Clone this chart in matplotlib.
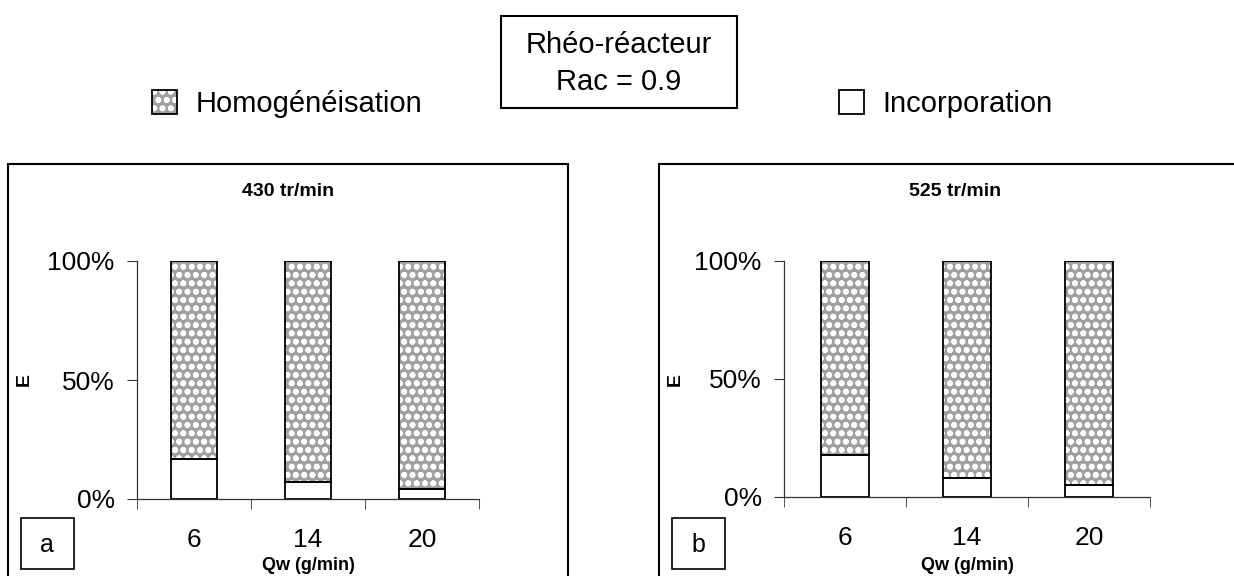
import numpy as np
import matplotlib
matplotlib.use("Agg")
import matplotlib.pyplot as plt
from matplotlib.patches import Rectangle, Patch

plt.rcParams['font.family'] = ['Liberation Sans', 'DejaVu Sans']
plt.rcParams['hatch.linewidth'] = 1.8

# donnees
debits = ['6', '14', '20']
incorp_430 = [17, 7, 4]
incorp_525 = [18, 8, 5]
titres = ['430 tr/min', '525 tr/min']
lettres = ['a', 'b']

W, H = 1234, 576
GRIS = '#a0a0a0'

fig = plt.figure(figsize=(W / 100, H / 100), dpi=100)


def px(x, y):
    # pixels (origine en haut a gauche) -> coordonnees figure
    return x / W, 1 - y / H


def panneau(x0, y0, w, h, incorp, e_x):
    ax = fig.add_axes([x0 / W, 1 - y0 / H, w / W, h / H])
    x = np.arange(len(debits))
    inc = np.array(incorp)
    hom = 100 - inc
    ax.bar(x, inc, 0.4, color='white', edgecolor='black', linewidth=1.3, zorder=3)
    ax.bar(x, hom, 0.4, bottom=inc, color=GRIS, hatch='oo', edgecolor='white',
           linewidth=0, zorder=2)
    ax.bar(x, hom, 0.4, bottom=inc, fill=False, edgecolor='black', linewidth=1.3, zorder=3)
    ax.set_xlim(-0.5, 2.5)
    ax.set_ylim(0, 100)
    ax.set_yticks([0, 50, 100])
    ax.set_yticklabels(['0%', '50%', '100%'])
    ax.set_xticks(x)
    ax.set_xticklabels(debits)
    ax.set_xticks([-0.5, 0.5, 1.5, 2.5], minor=True)
    ax.tick_params(axis='x', which='major', length=0, pad=21, labelsize=19)
    ax.tick_params(axis='x', which='minor', length=7, direction='out', color='#333333')
    ax.tick_params(axis='y', length=7, direction='out', pad=9, labelsize=19, color='#333333')
    for s in ['top', 'right']:
        ax.spines[s].set_visible(False)
    for s in ['left', 'bottom']:
        ax.spines[s].set_color('#333333')
        ax.spines[s].set_linewidth(0.9)
    ax.set_xlabel('Qw (g/min)', fontsize=13, fontweight='bold')
    ax.xaxis.set_label_coords(0.5, (y0 - 557) / h)
    ax.set_ylabel('E', fontsize=14, fontweight='bold')
    ax.yaxis.set_label_coords((e_x - x0) / w, 0.5)
    return ax


ax_a = panneau(137, 499, 342, 238, incorp_430, 33)
ax_b = panneau(784, 497, 366, 236, incorp_525, 684)

# cadres des deux graphiques
for (x0, x1), xt, titre, lettre in zip([(8, 568), (659, 1250)], [288, 955], titres, lettres):
    fig.patches.append(Rectangle(px(x0, 590), (x1 - x0) / W, (590 - 164) / H,
                                 transform=fig.transFigure, fill=False,
                                 edgecolor='black', linewidth=1.5))
    fig.text(*px(xt, 192), titre, fontsize=14, fontweight='bold',
             ha='center', va='center')
    fig.patches.append(Rectangle(px(x0 + 13, 569), 53 / W, 51 / H,
                                 transform=fig.transFigure, fill=False,
                                 edgecolor='black', linewidth=1.2))
    fig.text(*px(x0 + 39, 545), lettre, fontsize=18, ha='center', va='center')

# encadre du titre
fig.patches.append(Rectangle(px(501, 108), 236 / W, 92 / H, transform=fig.transFigure,
                             fill=False, edgecolor='black', linewidth=1.5))
fig.text(*px(619, 45), 'Rhéo-réacteur', fontsize=21, ha='center', va='center')
fig.text(*px(619, 82), 'Rac = 0.9', fontsize=21, ha='center', va='center')

# legende
h_hom = (Patch(facecolor=GRIS, hatch='oo', edgecolor='white', linewidth=0),
         Patch(fill=False, edgecolor='black', linewidth=1.3))
h_inc = Patch(facecolor='white', edgecolor='black', linewidth=1.3)
for h, lab, x0 in [(h_hom, 'Homogénéisation', 152), (h_inc, 'Incorporation', 839)]:
    fig.legend([h], [lab], loc='center left', bbox_to_anchor=px(x0, 104),
               frameon=False, fontsize=21, borderpad=0, borderaxespad=0,
               handlelength=0.86, handleheight=0.86, handletextpad=0.62)

fig.savefig('out.png', dpi=100)
